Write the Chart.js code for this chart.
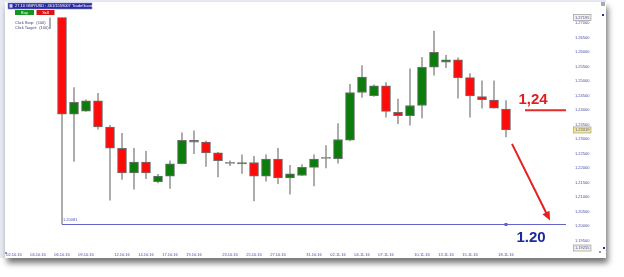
<!DOCTYPE html>
<html><head><meta charset="utf-8">
<script src="https://cdn.jsdelivr.net/npm/chart.js@4.4.1/dist/chart.umd.min.js"></script>
<style>
html,body{margin:0;padding:0;background:#fff;width:624px;height:277px;overflow:hidden;}
#bg{position:absolute;left:0;top:0;width:606px;height:258px;background:#e9ebf4;}
#panel{position:absolute;left:5px;top:2px;width:601px;height:256px;background:#fff;box-shadow:2px 5px 6px rgba(0,0,0,0.55);}
#wrap{position:absolute;left:0;top:0;width:624px;height:277px;}
</style></head><body>
<div id="bg"></div><div id="panel"></div>
<div id="wrap"><canvas id="c" width="624" height="277"></canvas></div>
<script>
// ---- data ----
const dates = ['02.10.16','03.10.16','04.10.16','05.10.16','06.10.16','07.10.16',
  '09.10.16','10.10.16','11.10.16','12.10.16','13.10.16','14.10.16',
  '16.10.16','17.10.16','18.10.16','19.10.16','20.10.16','21.10.16',
  '23.10.16','24.10.16','25.10.16','26.10.16','27.10.16','28.10.16',
  '30.10.16','31.10.16','01.11.16','02.11.16','03.11.16','04.11.16',
  '06.11.16','07.11.16','08.11.16','09.11.16','10.11.16','11.11.16',
  '13.11.16','14.11.16','15.11.16','16.11.16','17.11.16','18.11.16'];
const openP  = [1.2975,1.2962,1.2857,1.2740,1.2730,1.2386,
  1.2397,1.2432,1.2342,1.2269,1.2184,1.2221,
  1.2154,1.2173,1.2216,1.2296,1.2290,1.2253,
  1.2217,1.2215,1.2220,1.2173,1.2232,1.2167,
  1.2175,1.2203,1.2234,1.2233,1.2297,1.2461,
  1.2450,1.2484,1.2393,1.2381,1.2416,1.2548,
  1.2565,1.2573,1.2512,1.2447,1.2435,1.2404];
const highP  = [1.2985,1.2975,1.2875,1.2760,1.2745,1.2478,
  1.2436,1.2458,1.2348,1.2320,1.2269,1.2258,
  1.2179,1.2226,1.2322,1.2329,1.2294,1.2255,
  1.2226,1.2246,1.2241,1.2246,1.2269,1.2210,
  1.2213,1.2246,1.2278,1.2354,1.2489,1.2554,
  1.2487,1.2495,1.2438,1.2542,1.2582,1.2672,
  1.2589,1.2580,1.2526,1.2501,1.2501,1.2433];
const lowP   = [1.2955,1.2850,1.2728,1.2681,1.20081,1.2224,
  1.2396,1.2335,1.2090,1.2162,1.2128,1.2164,
  1.2150,1.2131,1.2215,1.2250,1.2206,1.2170,
  1.2209,1.2182,1.2088,1.2156,1.2147,1.2111,
  1.2175,1.2139,1.2201,1.2218,1.2294,1.2444,
  1.2447,1.2376,1.2354,1.2348,1.2373,1.2521,
  1.2546,1.2441,1.2376,1.2407,1.2407,1.2308];
const closeP = [1.2962,1.2857,1.2740,1.2730,1.2386,1.2427,
  1.2432,1.2342,1.2269,1.2184,1.2221,1.2184,
  1.2173,1.2215,1.2296,1.2290,1.2253,1.2226,
  1.2217,1.2220,1.2173,1.2232,1.2167,1.2181,
  1.2203,1.2232,1.2234,1.2299,1.2461,1.2514,
  1.2484,1.2396,1.2381,1.2416,1.2548,1.2599,
  1.2573,1.2512,1.2449,1.2436,1.2407,1.23319];
const futureSlots = ['', '', '', ''];
const shownDateLabels = ['02.10.16','04.10.16','06.10.16','09.10.16','12.10.16','14.10.16',
  '17.10.16','19.10.16','23.10.16','25.10.16','27.10.16','31.10.16','02.11.16','04.11.16',
  '07.11.16','10.11.16','13.11.16','15.11.16','18.11.16'];
const yMin = 1.19255, yMax = 1.27195;
const yTickValues = [1.19255,1.195,1.200,1.205,1.210,1.215,1.220,1.225,1.230,1.23319,1.235,
  1.240,1.245,1.250,1.255,1.260,1.265,1.270,1.27195];
const lowLineValue = 1.20081;
const targetLevel = 1.24;
const targetText = '1,24';
const goalText = '1.20';

// ---- build ----
const labels = dates.concat(futureSlots);
const bodies = dates.map((d,i)=>[openP[i], closeP[i]]);
const wicks = dates.map((d,i)=>[lowP[i], highP[i]]);
const bodyColors = dates.map((d,i)=> closeP[i]>openP[i] ? '#0c7c0c' : (closeP[i]<openP[i] ? '#ff0a0a' : '#8a8a8a'));
const FONT = '"Liberation Sans", Arial, sans-serif';
const Y_PAD = 15;

const overlay = {
  id:'overlay',
  beforeDraw(chart){
    const {ctx, chartArea:a, scales:{y}} = chart;
    ctx.save();
    ctx.font = '4px ' + FONT;
    const boxed = [{v:yMax, f:'#f3f3e4'}, {v:closeP[closeP.length-1], f:'#f6ee84'}, {v:yMin, f:'#f3f3e4'}];
    boxed.forEach(b=>{
      const py = y.getPixelForValue(b.v);
      const w = ctx.measureText(b.v.toFixed(5)).width;
      const x0 = a.right + Y_PAD - 1.5;
      ctx.fillStyle = b.f; ctx.fillRect(x0, py-3, w+3, 6);
      ctx.strokeStyle = '#9a9a9a'; ctx.lineWidth = 0.7; ctx.strokeRect(x0, py-3, w+3, 6);
    });
    ctx.restore();
  },
  afterDatasetsDraw(chart){
    const {ctx, chartArea:a, scales:{x,y}} = chart;
    const last = dates.length-1;
    const xl = x.getPixelForValue(last);
    ctx.save();
    // low line
    const yl = Math.round(y.getPixelForValue(lowLineValue)) + 0.5;
    ctx.strokeStyle = '#6464c8'; ctx.lineWidth = 1;
    ctx.beginPath(); ctx.moveTo(x.getPixelForValue(4), yl); ctx.lineTo(a.right+6, yl); ctx.stroke();
    ctx.fillStyle = '#6464c8'; ctx.fillRect(xl-1.5, yl-1.5, 3, 3);
    ctx.font = '4px ' + FONT; ctx.fillStyle = '#5050b8'; ctx.textBaseline = 'bottom';
    ctx.fillText(lowLineValue.toFixed(5), x.getPixelForValue(4)+1, yl-3);
    // target line 1.24
    const yt = y.getPixelForValue(targetLevel);
    ctx.strokeStyle = '#e42a2a'; ctx.lineWidth = 2;
    ctx.beginPath(); ctx.moveTo(xl+19, yt); ctx.lineTo(a.right+6, yt); ctx.stroke();
    ctx.font = 'bold 15px ' + FONT; ctx.fillStyle = '#e41e1e'; ctx.textAlign = 'center'; ctx.textBaseline = 'alphabetic';
    ctx.fillText(targetText, xl+27, yt-6);
    // arrow
    const x1 = xl+6, y1 = y.getPixelForValue(lowP[last])+7;
    const x2 = xl+44, y2 = yl-4;
    const ang = Math.atan2(y2-y1, x2-x1);
    ctx.strokeStyle = '#e42020'; ctx.lineWidth = 2;
    ctx.beginPath(); ctx.moveTo(x1,y1); ctx.lineTo(x2-7*Math.cos(ang), y2-7*Math.sin(ang)); ctx.stroke();
    ctx.fillStyle = '#e42020';
    ctx.beginPath(); ctx.moveTo(x2,y2);
    ctx.lineTo(x2-9*Math.cos(ang)+4*Math.sin(ang), y2-9*Math.sin(ang)-4*Math.cos(ang));
    ctx.lineTo(x2-9*Math.cos(ang)-4*Math.sin(ang), y2-9*Math.sin(ang)+4*Math.cos(ang));
    ctx.closePath(); ctx.fill();
    // 1.20 text
    ctx.font = 'bold 15px ' + FONT; ctx.fillStyle = '#1d2a9c';
    ctx.fillText(goalText, xl+25, yl+17);
    ctx.restore();
  },
  afterDraw(chart){
    const {ctx} = chart;
    ctx.save();
    // header bar
    ctx.fillStyle = '#2a2aa2'; ctx.fillRect(8, 3, 84, 6);
    ctx.strokeStyle = '#8888cc'; ctx.lineWidth = 0.6; ctx.strokeRect(8, 3, 84, 6);
    ctx.fillStyle = '#d0d0f0'; ctx.fillRect(9.5, 4.2, 3, 3.4);
    ctx.font = '4px ' + FONT; ctx.fillStyle = '#ffffff'; ctx.textBaseline = 'middle';
    ctx.fillText('27.10 GBP/USD : 461/1559007 TradeGuard', 15, 6.2);
    // buttons
    ctx.fillStyle = '#14961e'; ctx.fillRect(15, 10, 19, 5);
    ctx.fillStyle = '#d81414'; ctx.fillRect(36.5, 10, 18, 5);
    ctx.fillStyle = '#ffffff'; ctx.textAlign = 'center';
    ctx.fillText('Buy', 24.5, 12.6); ctx.fillText('Sell', 45.5, 12.6);
    ctx.textAlign = 'left'; ctx.fillStyle = '#40407a';
    ctx.fillText('Click Stop:  (100)', 15, 22.5);
    ctx.fillText('Click Target:  (100)', 15, 28);
    // corner marks
    ctx.fillStyle = '#a8a8b8'; ctx.fillRect(601, 2, 4, 4);
    ctx.fillStyle = '#2a2ab0'; ctx.fillRect(602, 14, 2, 2); ctx.fillRect(603, 247, 2, 2);
    ctx.fillStyle = '#9a9a9a'; ctx.fillRect(599, 251, 2, 2); ctx.fillRect(5, 252, 2, 2);
    ctx.restore();
  }
};

new Chart(document.getElementById('c'), {
  type: 'bar',
  data: {
    labels: labels,
    datasets: [
      { label:'wick', data: wicks, backgroundColor:'#9c9c9c', borderWidth:0, barThickness:1, grouped:false, order:2, clip:0 },
      { label:'body', data: bodies, backgroundColor: bodyColors, borderColor:'#6e6e6e', borderWidth:1, borderSkipped:false,
        barThickness:9, grouped:false, order:1, minBarLength:1, clip:0 }
    ]
  },
  options: {
    responsive:false, animation:false, devicePixelRatio:1,
    layout:{ padding:{ left:8, top:14, right:24, bottom:19 } },
    plugins:{ legend:{display:false}, tooltip:{enabled:false} },
    scales:{
      x:{
        offset:true,
        grid:{ display:false, drawTicks:false },
        border:{ display:false },
        afterFit(s){ s.height = 10; },
        ticks:{ autoSkip:false, maxRotation:0, minRotation:0, padding:4, color:'#4b4ba8',
          font:{ size:4, family:FONT },
          callback(v){ const l = labels[v]; return shownDateLabels.includes(l) ? l : ''; } }
      },
      y:{
        position:'right', min:yMin, max:yMax,
        grid:{ display:false, drawTicks:false },
        border:{ display:false },
        afterFit(s){ s.width = 40; },
        afterBuildTicks(s){ s.ticks = yTickValues.map(v=>({value:v})); },
        ticks:{ autoSkip:false, padding:Y_PAD, color:'#4b4ba8', font:{ size:4, family:FONT },
          callback(v){ return Number(v).toFixed(5); } }
      }
    }
  },
  plugins:[overlay]
});
</script>
</body></html>
